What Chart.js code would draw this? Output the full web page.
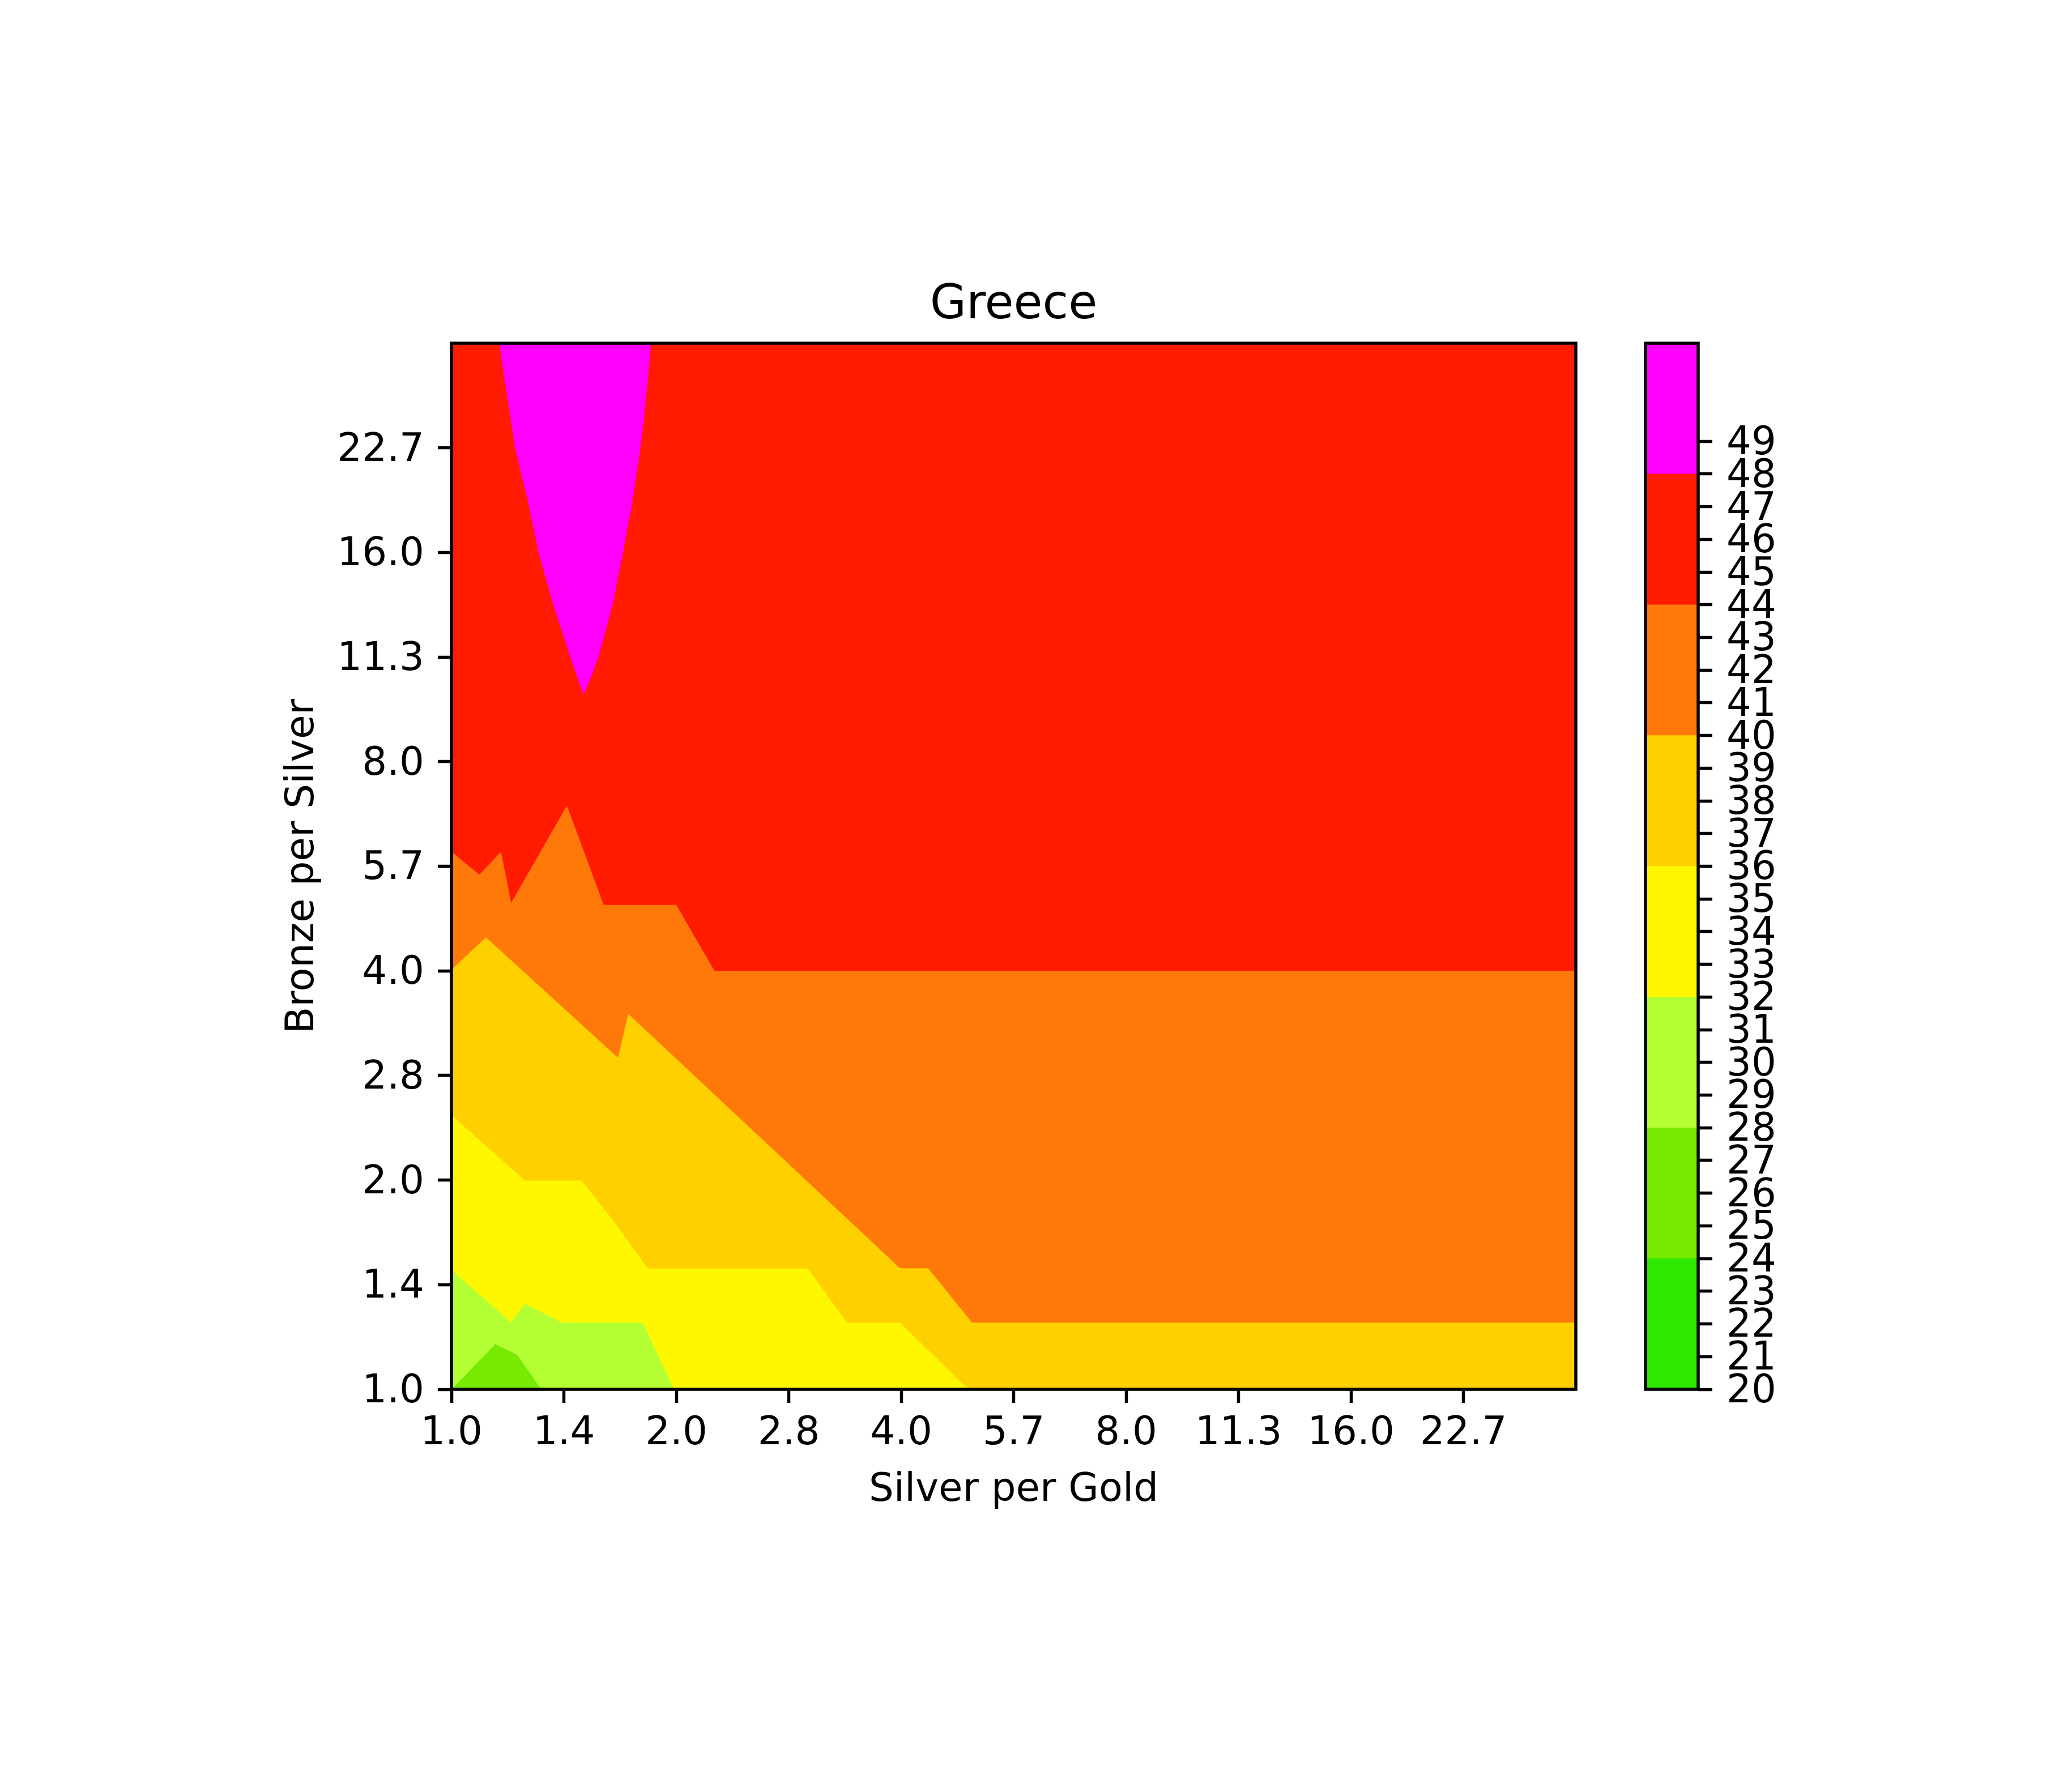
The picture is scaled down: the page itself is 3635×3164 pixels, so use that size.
<!DOCTYPE html>
<html>
<head>
<meta charset="utf-8">
<script src="https://cdn.jsdelivr.net/npm/chart.js@4.4.1/dist/chart.umd.min.js"></script>
<style>
html,body{margin:0;padding:0;background:#ffffff;}
body{width:3635px;height:3164px;position:relative;overflow:hidden;}
canvas{position:absolute;top:0;}
</style>
</head>
<body>
<canvas id="main" width="2860" height="3164" style="left:0px"></canvas>
<canvas id="cbar" width="775" height="3164" style="left:2860px"></canvas>
<script>
// ---------------- data ----------------
const chartTitle = 'Greece';
const xAxisLabel = 'Silver per Gold';
const yAxisLabel = 'Bronze per Silver';
// tick labels (axes are in grid-index units 0..10)
const xTickLabels = ['1.0','1.4','2.0','2.8','4.0','5.7','8.0','11.3','16.0','22.7'];
const yTickLabels = ['1.0','1.4','2.0','2.8','4.0','5.7','8.0','11.3','16.0','22.7'];
// contour levels and colours
const levels = [20,24,28,32,36,40,44,48,52];
const levelColors = ['#2ee800','#76eb00','#b3ff33','#fff700','#ffd000','#ff780a','#ff1a00','#ff00ff'];
const colorbarTicks = [20,21,22,23,24,25,26,27,28,29,30,31,32,33,34,35,36,37,38,39,40,41,42,43,44,45,46,47,48,49];
// contour boundary lines (lower edge of each level's region)
const contour28X = [0, 0.39, 0.586, 0.80, 10];
const contour28Y = [0, 0.434, 0.33, 0, 0];
const contour32X = [0, 0.53, 0.65, 0.98, 1.70, 1.98, 10];
const contour32Y = [1.14, 0.642, 0.817, 0.638, 0.638, 0, 0];
const contour36X = [0, 0.654, 1.157, 1.416, 1.747, 3.17, 3.52, 3.99, 4.60, 10];
const contour36Y = [2.62, 1.995, 1.995, 1.645, 1.155, 1.155, 0.635, 0.635, 0, 0];
const contour40X = [0, 0.307, 1.482, 1.572, 3.99, 4.24, 4.63, 10];
const contour40Y = [4.01, 4.32, 3.168, 3.59, 1.157, 1.157, 0.638, 0.638];
const contour44X = [0, 0.248, 0.441, 0.531, 1.027, 1.354, 2.0, 2.34, 10];
const contour44Y = [5.14, 4.92, 5.14, 4.65, 5.58, 4.63, 4.63, 4.0, 4.0];
const contour48X = [0.427, 0.458, 0.494, 0.530, 0.566, 0.620, 0.678, 0.774, 0.905, 1.056, 1.120, 1.174, 1.240, 1.308, 1.434, 1.526, 1.612, 1.681, 1.710, 1.733, 1.756, 1.775];
const contour48Y = [10, 9.75, 9.5, 9.25, 9, 8.75, 8.5, 8, 7.5, 7, 6.8, 6.64, 6.8, 7, 7.5, 8, 8.5, 9, 9.25, 9.5, 9.75, 10];

// ---------------- rendering ----------------
const FONT = "'DejaVu Sans', sans-serif";
Chart.defaults.font.family = FONT;
Chart.defaults.color = '#000';

const framePlugin = {
  id: 'frame',
  afterDatasetsDraw(chart) {
    const a = chart.chartArea, c = chart.ctx;
    c.save();
    c.lineWidth = 5.5;
    c.strokeStyle = '#000';
    c.strokeRect(a.left, a.top, a.right - a.left, a.bottom - a.top);
    c.restore();
  }
};

function region(xs, ys, color, fill, order) {
  return {
    data: xs.map((x, i) => ({x: x, y: ys[i]})),
    showLine: true,
    fill: fill,
    backgroundColor: color,
    borderColor: 'rgba(0,0,0,0)',
    borderWidth: 0,
    pointRadius: 0,
    pointHoverRadius: 0,
    tension: 0,
    order: order
  };
}

const datasets = [
  region(contour28X, contour28Y, levelColors[1], 'start', 7),
  region(contour28X, contour28Y, levelColors[2], 'end', 6),
  region(contour32X, contour32Y, levelColors[3], 'end', 5),
  region(contour36X, contour36Y, levelColors[4], 'end', 4),
  region(contour40X, contour40Y, levelColors[5], 'end', 3),
  region(contour44X, contour44Y, levelColors[6], 'end', 2),
  region(contour48X, contour48Y, levelColors[7], 'end', 1)
];

const tickFont = {size: 69, family: FONT};

new Chart(document.getElementById('main'), {
  type: 'scatter',
  data: {datasets: datasets},
  options: {
    responsive: false,
    animation: false,
    devicePixelRatio: 1,
    events: [],
    layout: {padding: {left: 0, right: 78, top: 0, bottom: 0}},
    plugins: {
      legend: {display: false},
      tooltip: {enabled: false},
      title: {
        display: true, text: chartTitle, fullSize: false,
        font: {size: 83, family: FONT, weight: 'normal'}, color: '#000',
        padding: {top: 491, bottom: 15.4}
      }
    },
    scales: {
      x: {
        type: 'linear', min: 0, max: 10,
        afterBuildTicks: s => { s.ticks = xTickLabels.map((_, i) => ({value: i})); },
        afterFit: s => { s.height = 711; },
        ticks: {callback: (v, i) => xTickLabels[i], font: tickFont, color: '#000', padding: 14, maxRotation: 0, autoSkip: false},
        grid: {drawOnChartArea: false, drawTicks: true, tickLength: 24, tickWidth: 5.5, tickColor: '#000'},
        border: {display: false},
        title: {display: true, text: xAxisLabel, font: {size: 69, family: FONT}, color: '#000', padding: {top: 0, bottom: 490.6}}
      },
      y: {
        type: 'linear', min: 0, max: 10,
        afterBuildTicks: s => { s.ticks = yTickLabels.map((_, i) => ({value: i})); },
        afterFit: s => { s.width = 797; },
        ticks: {callback: (v, i) => yTickLabels[i], font: tickFont, color: '#000', padding: 24, labelOffset: 5, autoSkip: false},
        grid: {drawOnChartArea: false, drawTicks: true, tickLength: 24, tickWidth: 5.5, tickColor: '#000'},
        border: {display: false},
        title: {display: true, text: yAxisLabel, font: {size: 69, family: FONT}, color: '#000', padding: {top: 494, bottom: 0}}
      }
    }
  },
  plugins: [framePlugin]
});

new Chart(document.getElementById('cbar'), {
  type: 'bar',
  data: {
    labels: [''],
    datasets: levelColors.map((c, i) => ({
      data: [[levels[i], levels[i + 1]]],
      backgroundColor: c,
      borderWidth: 0,
      barPercentage: 1,
      categoryPercentage: 1,
      stack: 'cb'
    }))
  },
  options: {
    responsive: false,
    animation: false,
    devicePixelRatio: 1,
    events: [],
    layout: {padding: {left: 45, right: 337, top: 606, bottom: 711}},
    plugins: {legend: {display: false}, tooltip: {enabled: false}, title: {display: false}},
    scales: {
      x: {display: false, stacked: true},
      y: {
        position: 'right', stacked: false, min: 20, max: 52,
        afterBuildTicks: s => { s.ticks = colorbarTicks.map(v => ({value: v})); },
        afterFit: s => { s.width = 300; },
        ticks: {font: tickFont, color: '#000', padding: 25, labelOffset: 5, autoSkip: false},
        grid: {drawOnChartArea: false, drawTicks: true, tickLength: 25, tickWidth: 5.5, tickColor: '#000'},
        border: {display: false}
      }
    }
  },
  plugins: [framePlugin]
});
</script>
</body>
</html>
